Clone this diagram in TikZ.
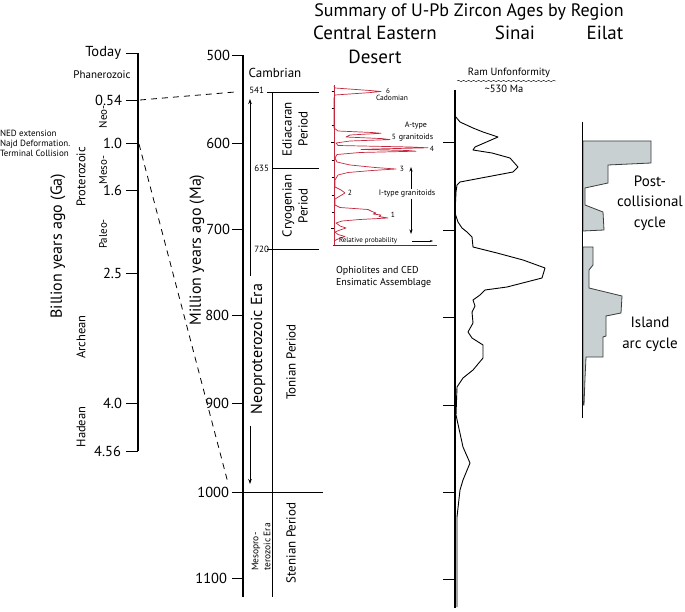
\documentclass[tikz,border=0pt]{standalone}
\usepackage{fontspec}
\setmainfont{PT Sans}
\usetikzlibrary{arrows.meta,decorations.pathmorphing}
\definecolor{histred}{RGB}{196,40,62}
\definecolor{eilatgray}{RGB}{200,208,210}
\definecolor{outl}{RGB}{60,60,60}
\newcommand\fsz[2]{\fontsize{#1}{#2}\selectfont}
\begin{document}
\begin{tikzpicture}[x=1pt,y=-1pt,
  axisln/.style={line width=1.3pt},
  thinln/.style={line width=0.8pt},
  lbl/.style={inner sep=0pt,outer sep=0pt},
  tipA/.style={-{Stealth[length=5pt,width=3.5pt]}}]
\useasboundingbox (0,0) rectangle (685,612);
\fill[white] (0,0) rectangle (685,612);

% ---------- left scale (Ga) ----------
\draw[axisln] (138,53) -- (138,451);
\foreach \yy in {53,100,143,190,273,403,451} { \draw[thinln] (126,\yy) -- (138,\yy); }
\node[lbl,anchor=east,font={\fsz{14.5}{16}}] (gtoday) at (121,53) {Today};
\node[lbl,anchor=east,font={\fsz{14.5}{16}}] (g054) at (122,100) {0.54};
\node[lbl,anchor=east,font={\fsz{14.5}{16}}] (g10) at (122,143) {1.0};
\node[lbl,anchor=east,font={\fsz{14.5}{16}}] (g16) at (122,190) {1.6};
\node[lbl,anchor=east,font={\fsz{14.5}{16}}] (g25) at (122,273) {2.5};
\node[lbl,anchor=east,font={\fsz{14.5}{16}}] (g40) at (122,403) {4.0};
\node[lbl,anchor=east,font={\fsz{14.5}{16}}] (g456) at (121,451) {4.56};
\node[lbl,font={\fsz{11}{13}}] (phan) at (102,75) {Phanerozoic};
\node[lbl,rotate=90,font={\fsz{11}{13}}] (neo) at (103,117) {Neo-};
\node[lbl,rotate=90,font={\fsz{11}{13}}] (meso) at (103,170) {Meso-};
\node[lbl,rotate=90,font={\fsz{11}{13}}] (paleo) at (103,234) {Paleo-};
\node[lbl,rotate=90,font={\fsz{12.5}{14}}] (prot) at (81,177) {Proterozoic};
\node[lbl,rotate=90,font={\fsz{12.5}{14}}] (arch) at (81,337) {Archean};
\node[lbl,rotate=90,font={\fsz{12.5}{14}}] (hade) at (81,427) {Hadean};
\node[lbl,rotate=90,font={\fsz{16}{18}}] (gaax) at (58,246) {Billion years ago (Ga)};
\node[lbl,anchor=north west,align=left,font={\fsz{9}{10}}] (ned) at (0,130.5) {NED extension\\Najd Deformation.\\Terminal Collision};

% dashed links
\coordinate (d1a) at (140,100); \coordinate (d1b) at (235,92);
\coordinate (d2a) at (139,144); \coordinate (d2b) at (228,483);
\draw[thinln,dash pattern=on 6pt off 5pt] (d1a) -- (d1b);
\draw[thinln,dash pattern=on 6pt off 5pt] (d2a) -- (d2b);

% ---------- middle scale (Ma) ----------
\draw[axisln] (243,55) -- (243,597);
\draw[thinln] (272,92) -- (272,597);
\foreach \yy in {55,143,229,315,403,492,578} { \draw[thinln] (232,\yy) -- (243,\yy); }
\node[lbl,anchor=east,font={\fsz{14.5}{16}}] (m500) at (230,55) {500};
\node[lbl,anchor=east,font={\fsz{14.5}{16}}] (m600) at (230,143) {600};
\node[lbl,anchor=east,font={\fsz{14.5}{16}}] (m700) at (230,229) {700};
\node[lbl,anchor=east,font={\fsz{14.5}{16}}] (m800) at (229,315) {800};
\node[lbl,anchor=east,font={\fsz{14.5}{16}}] (m900) at (229,403) {900};
\node[lbl,anchor=east,font={\fsz{14.5}{16}}] (m1000) at (229,492) {1000};
\node[lbl,anchor=east,font={\fsz{14.5}{16}}] (m1100) at (227,578) {1100};
\node[lbl,rotate=90,font={\fsz{16}{18}}] (maax) at (197,250) {Million years ago (Ma)};
\draw[thinln] (267,92) -- (319,92);
\draw[thinln] (272,168) -- (319,168);
\draw[thinln] (267,249) -- (319,249);
\draw[thinln] (243,492) -- (323,492);
\node[lbl,anchor=east,font={\fsz{9}{10}}] (p541) at (264,90) {541};
\node[lbl,anchor=east,font={\fsz{9}{10}}] (p635) at (269,168) {635};
\node[lbl,anchor=east,font={\fsz{9}{10}}] (p720) at (269,249) {720};
\node[lbl,font={\fsz{13}{15}}] (camb) at (275,73) {Cambrian};
\node[lbl,rotate=90,align=center,font={\fsz{13}{16}}] (edia) at (295,129) {Ediacaran\\Period};
\node[lbl,rotate=90,align=center,font={\fsz{13}{16}}] (cryo) at (295,206) {Cryogenian\\Period};
\node[lbl,rotate=90,font={\fsz{13}{15}}] (toni) at (291,362) {Tonian Period};
\node[lbl,rotate=90,font={\fsz{13}{15}}] (sten) at (291,543) {Stenian Period};
\node[lbl,rotate=90,align=left,font={\fsz{9.5}{12}}] (mesoera) at (261,547) {Mesopro-\\terozoic Era};
\node[lbl,rotate=90,font={\fsz{16}{18}}] (neoera) at (258,349) {Neoproterozoic Era};
\coordinate (na1) at (250,276); \coordinate (na2) at (250,99);
\coordinate (nb1) at (250,426); \coordinate (nb2) at (250,484);
\draw[thinln,tipA] (na1) -- (na2);
\draw[thinln,tipA] (nb1) -- (nb2);

% ---------- CED histogram ----------
\draw[histred,line width=0.8pt] (334,85) -- (334,245);
\foreach \yy in {91,108,125,160,177,195,212} { \draw[black,line width=0.4pt] (331.5,\yy) -- (334,\yy); }
\foreach \yy in {143,229} { \draw[black,line width=1pt] (331,\yy) -- (334,\yy); }
\draw[outl,line width=0.8pt] (333,245) -- (437,245);
\draw[histred,line width=0.7pt,line join=round]
  (334,86) -- (335,88) -- (370,90.5) -- (381,91.5) -- (370,92.6) -- (335,95) -- (334,98)
  -- (334,128) -- (338,131) -- (372,132.5) -- (381,133.3) -- (350,135) -- (346,137)
  -- (382,138.6) -- (390,139.6) -- (350,141) -- (336,143) -- (338,145.5) -- (410,147) -- (428,147.8)
  -- (375,149) -- (361,149.5) -- (408,150.5) -- (416,151.2) -- (360,152.5) -- (337,154.5) -- (335,158)
  -- (337,162) -- (350,165) -- (375,167.5) -- (396,169) -- (372,170.5) -- (348,172.5) -- (338,175) -- (335,180)
  -- (335,187) -- (341,190) -- (345,193) -- (340,196) -- (335,199) -- (335,205)
  -- (340,207.5) -- (368,209.5) -- (372,211.5) -- (376,213) -- (373,214) -- (381,215) -- (379,216.5)
  -- (388,218) -- (360,219.5) -- (342,221) -- (336,223) -- (340,226) -- (346,228) -- (340,230)
  -- (335,232) -- (338,234.5) -- (345,236.5) -- (338,239) -- (334,241);
\node[lbl,font={\fsz{7}{8}}] (n6) at (388,91) {6};
\node[lbl,font={\fsz{7.5}{8}}] (cado) at (392,98) {Cadomian};
\node[lbl,font={\fsz{7.5}{8}}] (n5) at (394,137) {5};
\node[lbl,align=center,font={\fsz{8}{12}}] (atype) at (416,132) {A-type\\granitoids};
\node[lbl,font={\fsz{7.5}{8}}] (n4) at (432,149) {4};
\node[lbl,font={\fsz{7.5}{8}}] (n3) at (402,169) {3};
\node[lbl,font={\fsz{7.5}{8}}] (n2) at (350,193) {2};
\node[lbl,font={\fsz{7.5}{8}}] (n1) at (393,215) {1};
\node[lbl,fill=white,inner sep=1pt,font={\fsz{8}{9}}] (itype) at (407,194) {I-type granitoids};
\coordinate (ia) at (411,167); \coordinate (ib) at (411,234);
\draw[black,line width=0.7pt,{Stealth[length=4.5pt,width=3pt]}-] (ia) -- (ia |- itype.north);
\draw[black,line width=0.7pt,-{Stealth[length=4.5pt,width=3pt]}] (ib |- itype.south) -- (ib);
\node[lbl,anchor=west,font={\fsz{7}{8}}] (relp) at (339,241) {Relative probability};
\coordinate (ra) at (412,241); \coordinate (rb) at (433,241);
\draw[black,line width=0.5pt,-{Stealth[length=3pt,width=2pt]}] (ra) -- (rb);
\node[lbl,anchor=west,align=left,font={\fsz{10}{13}}] (ophi) at (336,277) {Ophiolites and CED\\Ensimatic Assemblage};

% ---------- Sinai ----------
\draw[axisln] (455,90) -- (455,608);
\foreach \yy in {142,230,317,405,492,579} { \draw[thinln] (443,\yy) -- (455,\yy); }
\node[lbl,font={\fsz{10.5}{12}}] (ram) at (509,73) {Ram Unfonformity};
\draw[line width=0.4pt,decorate,decoration={snake,amplitude=0.7pt,segment length=5pt}] (457,81) -- (556,81);
\node[lbl,font={\fsz{10.5}{12}}] (ma530) at (504,88.5) {\textasciitilde530 Ma};
\draw[line width=0.9pt,line join=round]
  (455,116) -- (460,122) -- (473,128) -- (483,132) -- (498,137) -- (475,147) -- (473,150)
  -- (492,153) -- (510,158) -- (518,167) -- (513,172) -- (460,182) -- (457,185) -- (456,192)
  -- (455,213) -- (458,222) -- (462,228) -- (467,232) -- (472,237) -- (473,247) -- (497,253)
  -- (523,260) -- (545,268) -- (542,278) -- (507,287) -- (485,290) -- (480,295) -- (473,300)
  -- (475,306) -- (472,312) -- (473,323) -- (468,332) -- (472,338) -- (483,345) -- (483,358)
  -- (473,370) -- (463,378) -- (457,387) -- (456,415) -- (463,447) -- (470,463) -- (463,480)
  -- (460,490) -- (457,517) -- (457,607);

% ---------- Eilat ----------
\draw[fill=eilatgray,draw=outl,line width=0.8pt,line join=miter]
  (583,141) -- (651,141) -- (651,163) -- (608,165) -- (608,183) -- (585,188) -- (585,205)
  -- (603,212) -- (604,230) -- (583,231) -- cycle;
\draw[fill=eilatgray,draw=outl,line width=0.8pt,line join=miter]
  (583,247) -- (593,247) -- (593,265) -- (589,270) -- (589,288) -- (622,296) -- (621,313)
  -- (606,316) -- (606,336) -- (603,337) -- (603,357) -- (586,357) -- (585,378) -- (584,405) -- (583,405) -- cycle;
\draw[line width=1pt] (582,122) -- (582,418);
\node[lbl,align=center,font={\fsz{15}{20.5}}] (post) at (650,203) {Post-\\collisional\\cycle};
\node[lbl,align=center,font={\fsz{15}{21}}] (isl) at (650,334) {Island\\arc cycle};

% ---------- titles ----------
\node[lbl,font={\fsz{18}{20}}] (title) at (469,12) {Summary of U-Pb Zircon Ages by Region};
\node[lbl,align=center,font={\fsz{19}{24}}] (ced) at (375,45) {Central Eastern\\Desert};
\node[lbl,font={\fsz{19}{20}}] (sinai) at (515,33) {Sinai};
\node[lbl,font={\fsz{19}{20}}] (eilat) at (605,33) {Eilat};
\end{tikzpicture}
\end{document}
